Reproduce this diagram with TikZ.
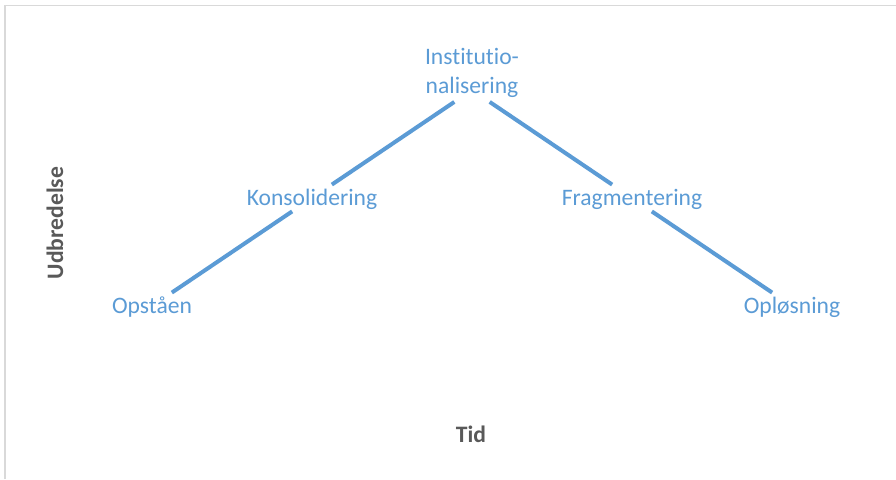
\documentclass[tikz,border=0pt]{standalone}
\usepackage{fontspec}
\setmainfont[Ligatures=NoCommon]{Carlito}
\usepackage{xcolor}
\usepackage{tikz}
\usetikzlibrary{calc}
\usetikzlibrary{positioning}

\definecolor{stageblue}{HTML}{5B9BD5}
\definecolor{axisgray}{HTML}{595959}
\definecolor{framegray}{HTML}{D9D9D9}

\begin{document}
\begin{tikzpicture}[x=0.75pt, y=-0.75pt, semithick]
    \tikzstyle{label}=[text=stageblue, font=\fontsize{17.7}{21.5}\selectfont, inner sep=0pt]
    \tikzstyle{stage}=[label, text height=11pt, text depth=0pt, minimum height=19.5pt]
    \tikzstyle{axislabel}=[text=axisgray, font=\bfseries\fontsize{17.7}{21.5}\selectfont]
    \tikzstyle{curve}=[draw=stageblue, line width=3pt]
\useasboundingbox (0,0) rectangle (896,479);
\draw[framegray, line width=1.1pt] (5,479) -- (5,5.5) -- (896,5.5);
% stages
\foreach \n/\x/\y/\t in {opst/152/306/Opståen, kons/312/198/Konsolidering, frag/632/198/Fragmentering, oplo/792/306/Opløsning}{
    \node[stage] (\n) at (\x,\y) {\t};
      }
    \coordinate (peak) at (472,90);
    \node[label, align=center] (inst) at (472,73) {Institutio-\\nalisering};
\draw[curve] (opst) -- (kons);
\draw[curve, shorten >=16pt] (kons) -- (peak);
\draw[curve, shorten <=16pt] (peak) -- (frag);
\draw[curve] (frag) -- (oplo);
% axes
    \node[axislabel] (tid) at (471,434) {Tid};
    \node[axislabel, rotate=90] (udbr) at (55,223) {Udbredelse};
   \end{tikzpicture}
\end{document}
